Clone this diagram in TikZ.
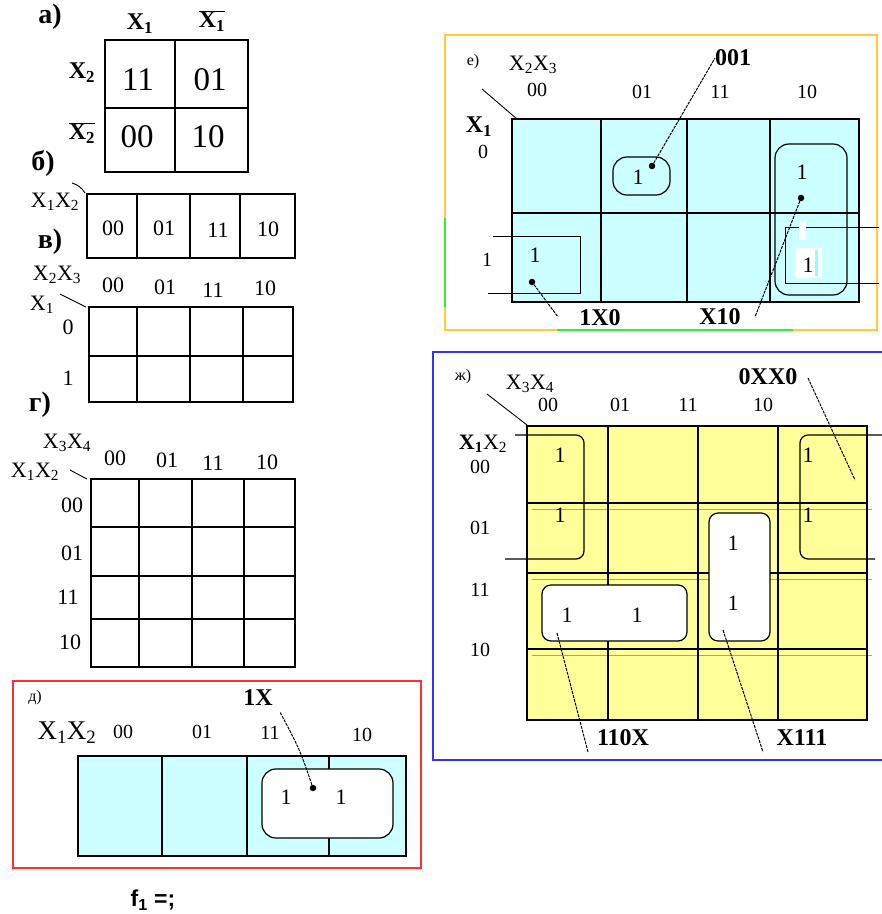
\documentclass[tikz,border=0pt]{standalone}
\usepackage{fontspec}
\setmainfont{Liberation Serif}
\newfontfamily\sansfnt{Liberation Sans}
\definecolor{kcyan}{HTML}{CCFFFF}
\definecolor{kyellow}{HTML}{FFFF99}
\definecolor{fred}{HTML}{FF3030}
\definecolor{forange}{HTML}{FFCC33}
\definecolor{fgreen}{HTML}{33EE33}
\definecolor{fblue}{HTML}{3333FF}
\definecolor{gline}{HTML}{A0A0A0}
\tikzset{
  base/.style={inner sep=0pt, outer sep=0pt},
  sm/.style={base, font=\fontsize{16}{16}\selectfont},
  n20/.style={base, font=\fontsize{20}{20}\selectfont},
  n22/.style={base, font=\fontsize{22}{22}\selectfont},
  n24/.style={base, font=\fontsize{24}{24}\selectfont},
  big/.style={base, font=\fontsize{33}{33}\selectfont},
  b24/.style={base, font=\bfseries\fontsize{24}{24}\selectfont},
  b28/.style={base, font=\bfseries\fontsize{28}{28}\selectfont},
  grid/.style={line width=1.4pt},
  leader/.style={line width=1pt, dash pattern=on 3pt off 1pt},
  thinl/.style={line width=0.9pt},
  dot/.style={circle, fill=black, inner sep=0pt, minimum size=6.5pt},
  oval/.style={line width=1.2pt, rounded corners=14pt},
}
\begin{document}
\begin{tikzpicture}[x=1pt,y=-1pt]
\useasboundingbox (0,0) rectangle (882,914);

% ---------------- a)
\node[b28] (alab) at (50,17) {а)};
\node[b24] (ax1) at (140,24) {X\textsubscript{1}};
\node[b24] (anx1) at (212,21) {$\overline{\mbox{X\textsubscript{1}}}$};
\node[b24] (ax2) at (82,73) {X\textsubscript{2}};
\node[b24] (anx2) at (82,133) {$\overline{\mbox{X\textsubscript{2}}}$};
\draw[grid] (105,40) rectangle (248,172) (175,40) -- (175,172) (105,108) -- (248,108);
\node[big] (a11) at (138,80) {11};
\node[big] (a01) at (210,80) {01};
\node[big] (a00) at (137,137) {00};
\node[big] (a10) at (208,137) {10};

% ---------------- b)
\node[b28] (blab) at (43,163) {б)};
\node[n22] (bx) at (55,202) {X\textsubscript{1}X\textsubscript{2}};
\draw[thinl] (72,183) to[bend left=20] (85,193);
\draw[grid] (87,194) rectangle (295,258) (137,194) -- (137,258) (190,194) -- (190,258) (240,194) -- (240,258);
\node[n22] (b00) at (113,228) {00};
\node[n22] (b01) at (164,228) {01};
\node[n22] (b11) at (218,230) {11};
\node[n22] (b10) at (268,229) {10};

% ---------------- v)
\node[b28] (vlab) at (50,242) {в)};
\node[n22] (vx23) at (57,275) {X\textsubscript{2}X\textsubscript{3}};
\node[n22] (vx1) at (42,305) {X\textsubscript{1}};
\node[n22] (vr0) at (68,327) {0};
\node[n22] (vr1) at (68,378) {1};
\draw[thinl] (60,294) -- (86,307);
\node[n22] (v00) at (113,285) {00};
\node[n22] (v01) at (165,287) {01};
\node[n22] (v11) at (213,290) {11};
\node[n22] (v10) at (265,288) {10};
\draw[grid] (89,307) rectangle (293,402) (89,356) -- (293,356)
  (137,307) -- (137,402) (190,307) -- (190,402) (243,307) -- (243,402);

% ---------------- g)
\node[b28] (glab) at (40,405) {г)};
\node[n22] (gx34) at (67,443) {X\textsubscript{3}X\textsubscript{4}};
\node[n22] (gx12) at (35,472) {X\textsubscript{1}X\textsubscript{2}};
\draw[thinl] (70,470) -- (87,479);
\node[n22] (g00) at (115,458) {00};
\node[n22] (g01) at (167,460) {01};
\node[n22] (g11) at (213,463) {11};
\node[n22] (g10) at (267,462) {10};
\node[n22] (gr00) at (72,505) {00};
\node[n22] (gr01) at (72,553) {01};
\node[n22] (gr11) at (68,597) {11};
\node[n22] (gr10) at (70,642) {10};
\draw[grid] (91,479) rectangle (295,667)
  (91,527) -- (295,527) (91,576) -- (295,576) (91,619) -- (295,619)
  (139,479) -- (139,667) (192,479) -- (192,667) (244,479) -- (244,667);

% ---------------- d)
\draw[fred, line width=2pt] (13,681) rectangle (421,868);
\node[sm] (dlab) at (35,698) {д)};
\node[base, font=\fontsize{27}{27}\selectfont] (dx) at (67,733) {X\textsubscript{1}X\textsubscript{2}};
\node[n20] (d00) at (123,732) {00};
\node[n20] (d01) at (202,732) {01};
\node[n20] (d11) at (270,733) {11};
\node[n20] (d10) at (362,735) {10};
\node[b24] (d1x) at (258,698) {1X};
\draw[grid, fill=kcyan] (78,756) rectangle (406,856);
\draw[grid] (162,756) -- (162,856) (247,756) -- (247,856) (329,756) -- (329,856);
\draw[oval, fill=white] (262,769) rectangle (393,838);
\node[n22] (dc1) at (286,797) {1};
\node[n22] (dc2) at (341,797) {1};
\node[dot] (ddot) at (313,788) {};
\coordinate (dend) at (280,712);
\draw[leader] (ddot) .. controls (300,750) .. (dend);

\node[base, font=\sansfnt\bfseries\fontsize{23}{23}\selectfont] (f1) at (153,900) {f\textsubscript{1} =;};

% ---------------- e)
\draw[forange, line width=2pt] (445,35) rectangle (877,330);
\draw[fgreen, line width=2pt] (445,218) -- (445,307) (557,330) -- (793,330);
\node[sm] (elab) at (473,62) {е)};
\node[n22] (ex23) at (533,65) {X\textsubscript{2}X\textsubscript{3}};
\node[b24] (e001) at (733,58) {001};
\node[n20] (e00) at (537,90) {00};
\node[n20] (e01) at (642,92) {01};
\node[n20] (e11) at (720,92) {11};
\node[n20] (e10) at (807,92) {10};
\draw[thinl] (482,89) -- (517,119);
\node[b24] (ex1) at (479,127) {X\textsubscript{1}};
\node[n20] (er0) at (483,152) {0};
\node[n20] (er1) at (487,260) {1};
\draw[grid, fill=kcyan] (512,119) rectangle (859,302);
\draw[grid] (512,213) -- (859,213) (601,119) -- (601,302) (687,119) -- (687,302) (770,119) -- (770,302);
\draw[oval] (613,157) rectangle (670,195);
\node[n22] (ec1) at (638,177) {1};
\node[dot] (edot1) at (652,166) {};
\draw[leader] (edot1) -- (e001.west);
\draw[thinl] (493,236) -- (580,236) -- (580,293) -- (488,293);
\node[n22] (ec2) at (535,255) {1};
\node[dot] (edot2) at (532,282) {};
\node[b24] (e1x0) at (600,318) {1X0};
\coordinate (eend2) at (558,317);
\draw[leader] (edot2) -- (eend2);
\draw[oval] (775,144) rectangle (847,295);
\draw[thinl] (879,227) -- (785,227) -- (785,283) -- (879,283);
\fill[white] (795,248) rectangle (822,278) (799,221) rectangle (806,240);
\fill[kcyan!70!cyan] (815,250) rectangle (818,276);
\node[n22] (ec3) at (802,172) {1};
\node[n22] (ec4) at (808,265) {1};
\node[dot] (edot3) at (801,198) {};
\node[b24] (ex10) at (720,317) {X10};
\coordinate (eend3) at (755,317);
\draw[leader] (edot3) -- (eend3);

% ---------------- zh)
\draw[fblue, line width=2pt] (882,352) -- (433,352) -- (433,760) -- (882,760);
\node[sm] (zlab) at (463,377) {ж)};
\node[n22] (zx34) at (530,384) {X\textsubscript{3}X\textsubscript{4}};
\node[b24] (z0xx0) at (768,377) {0XX0};
\node[n20] (z00) at (548,405) {00};
\node[n20] (z01) at (620,405) {01};
\node[n20] (z11) at (688,405) {11};
\node[n20] (z10) at (763,405) {10};
\draw[thinl] (487,394) -- (527,425);
\node[n22] (zx12) at (483,444) {\textbf{X\textsubscript{1}}X\textsubscript{2}};
\node[n20] (zr00) at (480,467) {00};
\node[n20] (zr01) at (480,528) {01};
\node[n20] (zr11) at (480,590) {11};
\node[n20] (zr10) at (480,650) {10};
\fill[kyellow] (527,426) rectangle (867,720);
\draw[gline, line width=1pt] (532,509) -- (872,509) (532,579) -- (872,579) (532,655) -- (872,655);
\draw[grid] (527,426) rectangle (867,720)
  (527,503) -- (867,503) (527,573) -- (867,573) (527,649) -- (867,649)
  (608,426) -- (608,720) (698,426) -- (698,720) (778,426) -- (778,720);
\draw[line width=1.2pt, rounded corners=8pt] (515,435) -- (584,435) -- (584,559) -- (505,559);
\draw[line width=1.2pt, rounded corners=8pt] (882,435) -- (800,435) -- (800,559) -- (875,559);
\draw[line width=1.2pt, rounded corners=9pt, fill=white] (709,513) rectangle (770,641);
\draw[line width=1.2pt, rounded corners=9pt, fill=white] (542,585) rectangle (687,641);
\node[n22] (zc1) at (560,455) {1};
\node[n22] (zc2) at (560,515) {1};
\node[n22] (zc3) at (808,455) {1};
\node[n22] (zc4) at (808,515) {1};
\node[n22] (zc5) at (733,543) {1};
\node[n22] (zc6) at (733,603) {1};
\node[n22] (zc7) at (567,615) {1};
\node[n22] (zc8) at (637,615) {1};
\node[b24] (z110x) at (623,738) {110X};
\node[b24] (zx111) at (802,738) {X111};
\coordinate (zs1) at (557,633);
\coordinate (ze1) at (588,752);
\coordinate (zs2) at (723,630);
\coordinate (ze2) at (763,752);
\coordinate (zs3) at (808,378);
\coordinate (ze3) at (855,480);
\draw[leader] (zs1) -- (ze1);
\draw[leader] (zs2) -- (ze2);
\draw[leader] (zs3) -- (ze3);
\end{tikzpicture}
\end{document}
